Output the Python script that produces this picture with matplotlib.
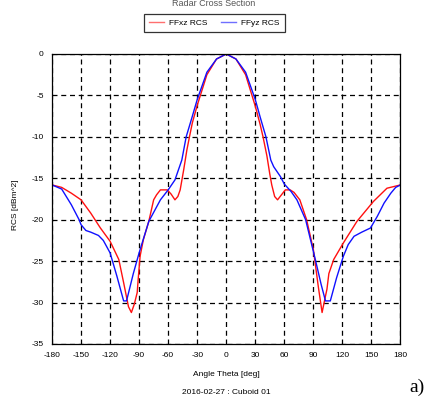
import numpy as np
import matplotlib.pyplot as plt

# DATA -------------------

theta_xz = [-180, -170, -160, -150, -140, -130, -120, -111, -106, -101, -98,
            -95, -92, -90.7, -89, -85.6, -80, -75, -72, -68, -61, -57, -53,
            -50, -47.6, -44, -40.7, -38, -35, -30, -20, -10, 0,
            10, 20, 30, 35, 38, 42, 45, 47, 50, 53, 57, 61, 66, 70, 76,
            83, 90, 95, 99, 102, 104, 106, 111, 121, 135, 152, 166, 180]
rcs_xz = [-15.8, -16.1, -16.8, -17.6, -19.2, -21.0, -22.6, -24.8, -27.6, -30.5, -31.2,
          -30.2, -28.8, -26.8, -24.4, -22.4, -20.2, -17.6, -17.0, -16.4, -16.4, -16.9, -17.6,
          -17.2, -16.4, -14.0, -11.6, -10.0, -8.3, -6.2, -2.5, -0.6, 0.0,
          -0.6, -2.5, -6.3, -8.5, -10.0, -12.3, -14.5, -15.8, -17.2, -17.6, -17.0, -16.4, -16.4, -16.7, -17.6,
          -20.0, -23.6, -28.0, -31.2, -29.5, -28.4, -26.5, -24.8, -22.8, -20.2, -17.8, -16.2, -15.8]

theta_yz = [-180, -170, -160, -152, -150, -145, -140, -132, -127, -120, -113,
            -106, -103, -96, -90, -80, -68, -60, -53, -45.9, -41.4, -35, -30,
            -20, -10, 0, 10, 20, 30, 35, 41, 46, 49, 56, 60, 67, 73, 82,
            92, 98, 102.5, 107.5, 114, 121, 126, 132, 140, 149, 156, 163,
            170, 175, 180]
rcs_yz = [-15.8, -16.3, -18.2, -20.0, -20.6, -21.3, -21.5, -21.9, -22.5, -24.0, -26.8,
          -29.8, -29.8, -26.5, -24.0, -20.2, -17.6, -16.4, -15.2, -12.8, -10.0, -7.5, -5.5,
          -2.2, -0.6, 0.0, -0.6, -2.2, -5.5, -7.6, -10.0, -12.8, -13.6, -14.8, -15.7, -16.6, -17.6, -20.0,
          -24.8, -27.8, -29.8, -29.8, -27.0, -24.4, -23.0, -22.0, -21.5, -21.0, -19.6, -18.0,
          -16.8, -16.1, -15.8]

x_ticks = list(range(-180, 181, 30))
y_ticks = list(range(-35, 1, 5))

# PLOTTING -------------

plt.rcParams['font.family'] = ['Liberation Sans', 'DejaVu Sans']
plt.rcParams['axes.unicode_minus'] = False

fig = plt.figure(figsize=(4.27, 4.01), dpi=100)
ax = fig.add_axes([52 / 427, 1 - 344 / 401, 348.5 / 427, 290 / 401])

ax.plot(theta_xz, rcs_xz, color='#ff1010', linewidth=1.0, label='FFxz RCS')
ax.plot(theta_yz, rcs_yz, color='#1010ff', linewidth=1.0, label='FFyz RCS')

ax.set_xlim(-180, 180)
ax.set_ylim(-35, 0)
ax.set_xticks(x_ticks)
ax.set_yticks(y_ticks)
ax.tick_params(length=0, labelsize=6, pad=6)
ax.grid(True, color='black', linestyle=(0, (4, 3)), linewidth=0.9)
for sp in ax.spines.values():
    sp.set_linewidth(0.9)

fig.text(0.5, 1 - 3 / 401, 'Radar Cross Section', ha='center', va='center',
         fontsize=6.5, color='#555555')
fig.text(16 / 427, 1 - 205 / 401, 'RCS [dBm^2]', rotation=90, ha='center',
         va='center', fontsize=6)
fig.text(226 / 427, 1 - 375 / 401, 'Angle Theta [deg]', ha='center',
         va='center', fontsize=6)
fig.text(226 / 427, 1 - 393 / 401, '2016-02-27 : Cuboid 01', ha='center',
         va='center', fontsize=6)
fig.text(417 / 427, 1 - 387 / 401, 'a)', ha='center', va='center',
         fontsize=14, family='Liberation Serif')

leg = fig.legend(loc='center', bbox_to_anchor=(214.5 / 427, 1 - 23 / 401),
                 ncol=2, fontsize=6, frameon=True, fancybox=False,
                 edgecolor='black', handlelength=1.8, handletextpad=0.6,
                 columnspacing=1.6, borderpad=0.6)
leg.get_frame().set_linewidth(0.9)
for line in leg.get_lines():
    line.set_alpha(0.6)

fig.savefig('out.png', dpi=100)
